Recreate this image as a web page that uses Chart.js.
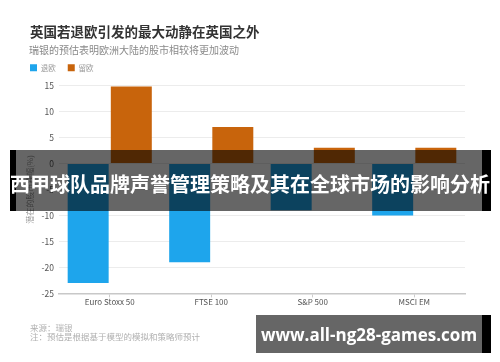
<!DOCTYPE html>
<html>
<head>
<meta charset="utf-8">
<script src="https://cdn.jsdelivr.net/npm/chart.js@4/dist/chart.umd.min.js"></script>
<style>
	body { margin: 0; background: #fff; }
	#wrap { position: relative; width: 500px; height: 362px; overflow: hidden; font-family: "Noto Sans CJK SC", "Noto Sans", sans-serif; }
	#chart { position: absolute; left: 0; top: 0; }
	.title { position: absolute; left: 30px; top: 22px; font-size: 13.5px; font-weight: bold; color: #333; line-height: 18px; white-space: nowrap; }
	.subtitle { position: absolute; left: 29px; top: 43px; font-size: 10px; color: #8a8a8a; line-height: 14px; white-space: nowrap; }
	.note { position: absolute; left: 30px; font-size: 8.5px; color: #b0b0b0; line-height: 9px; white-space: nowrap; }
	.banner { position: absolute; left: 10px; top: 150px; width: 466px; height: 61px; background: rgba(0,0,0,0.6); border-left: 6px solid #000; border-right: 9px solid #000; }
	.banner span { position: absolute; left: -16px; width: 500px; top: 22px; text-align: center; font-size: 20px; line-height: 24px; font-weight: bold; color: #fff; white-space: nowrap; }
	.mark { position: absolute; left: 256px; top: 315px; width: 226px; height: 38px; background: #666; border-right: 9px solid #000; }
	.mark span { position: absolute; left: 0; width: 226px; top: 9px; text-align: center; font-family: "Open Sans", sans-serif; font-size: 17px; line-height: 22px; font-weight: bold; color: #fff; white-space: nowrap; }
</style>
</head>
<body>
<div id="wrap">
	<canvas id="chart" width="500" height="362"></canvas>
	<div class="title">英国若退欧引发的最大动静在英国之外</div>
	<div class="subtitle">瑞银的预估表明欧洲大陆的股市相较将更加波动</div>
	<div class="note" style="top:323px">来源：瑞银</div>
	<div class="note" style="top:332px">注：预估是根据基于模型的模拟和策略师预计</div>
	<div class="banner"><span>西甲球队品牌声誉管理策略及其在全球市场的影响分析</span></div>
	<div class="mark"><span>www.all-ng28-games.com</span></div>
</div>

<script type="text/javascript">

// chart data
var categories = ["Euro Stoxx 50", "FTSE 100", "S&P 500", "MSCI EM"];
var seriesNames = ["退欧", "留欧"];
var brexitValues = [-23, -19, -9, -10];
var remainValues = [14.8, 7, 3, 3];
var yMin = -25;
var yMax = 15;
var yStep = 5;

var blue = '#1ea5ec';
var orange = '#c8640c';

Chart.defaults.font.family = '"Noto Sans CJK SC", "Noto Sans", sans-serif';

// push the plot area a bit below the legend
var legendGap = {
	id: 'legendGap',
	beforeInit: function(chart) {
		var fit = chart.legend.fit;
		chart.legend.fit = function() {
			fit.bind(chart.legend)();
			this.height += 4;
		};
	}
};

var ctx = document.getElementById("chart").getContext('2d');
var myChart = new Chart(ctx, {
	type: 'bar',
	data: {
		labels: categories,
		datasets: [{
			label: seriesNames[0],
			data: brexitValues,
			backgroundColor: blue,
			categoryPercentage: 0.85,
			barPercentage: 0.95
		}, {
			label: seriesNames[1],
			data: remainValues,
			backgroundColor: orange,
			categoryPercentage: 0.85,
			barPercentage: 0.95
		}]
	},
	plugins: [legendGap],
	options: {
		responsive: false,
		animation: false,
		layout: { padding: { top: 52, left: 18, right: 35, bottom: 55 } },
		plugins: {
			legend: {
				position: 'top',
				align: 'start',
				labels: {
					boxWidth: 7,
					boxHeight: 7,
					padding: 12,
					color: '#999',
					font: { size: 7.5 }
				}
			},
			tooltip: { enabled: false }
		},
		scales: {
			x: {
				grid: {
					display: true,
					drawOnChartArea: false,
					offset: false,
					tickLength: 4,
					color: '#ccc'
				},
				border: { color: '#c8c8c8', width: 1.5 },
				ticks: { color: '#555', font: { size: 8 }, padding: 0 }
			},
			y: {
				min: yMin,
				max: yMax,
				ticks: { stepSize: yStep, color: '#555', font: { size: 8.5 }, padding: 5 },
				grid: { color: '#ececec', drawTicks: false },
				border: { display: false },
				title: {
					display: true,
					text: '潜在的股市跌幅(%)',
					color: '#999',
					font: { size: 8 },
					padding: { top: 7, bottom: 2 }
				}
			}
		}
	}
});
</script>
</body>
</html>
